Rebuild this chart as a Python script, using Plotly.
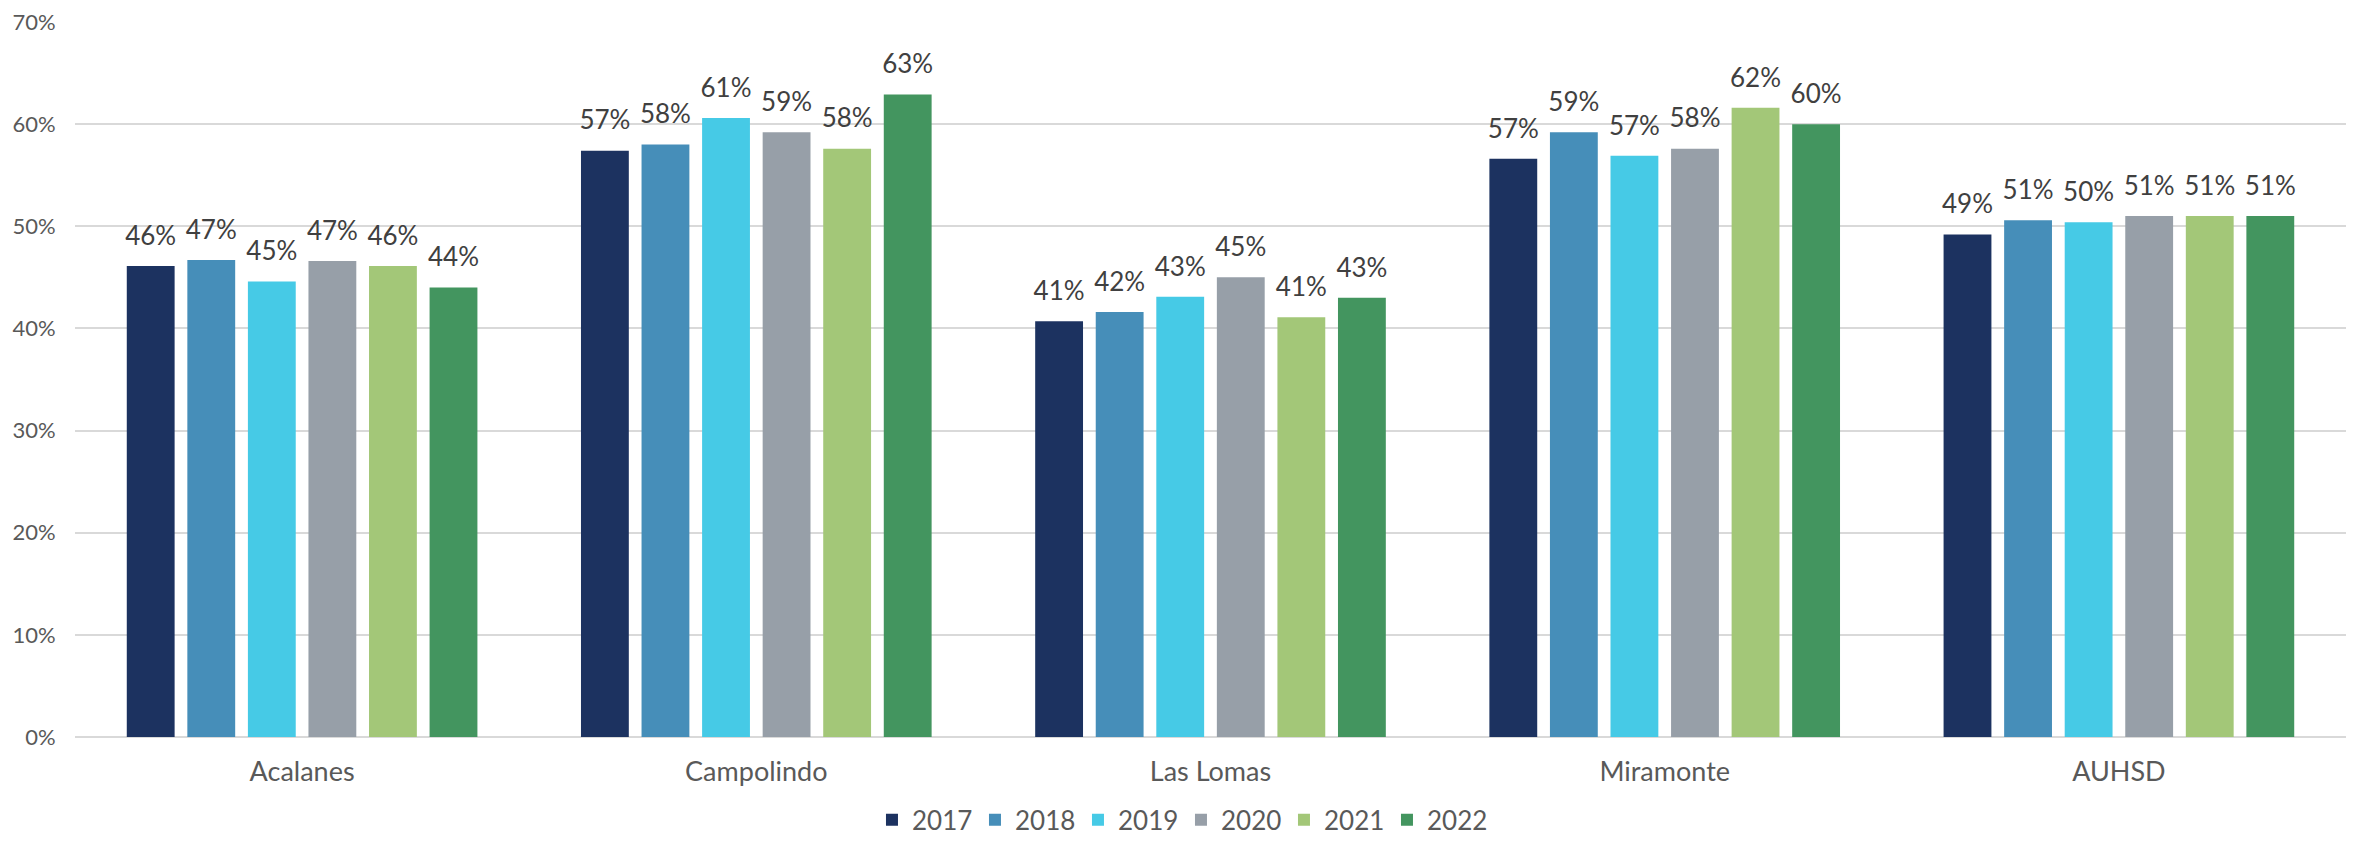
import plotly.graph_objects as go

schools = ["Acalanes", "Campolindo", "Las Lomas", "Miramonte", "AUHSD"]
years = ["2017", "2018", "2019", "2020", "2021", "2022"]

v2017 = [0.461, 0.574, 0.407, 0.566, 0.492]
v2018 = [0.467, 0.580, 0.416, 0.592, 0.506]
v2019 = [0.446, 0.606, 0.431, 0.569, 0.504]
v2020 = [0.466, 0.592, 0.450, 0.576, 0.510]
v2021 = [0.461, 0.576, 0.411, 0.616, 0.510]
v2022 = [0.440, 0.629, 0.430, 0.600, 0.510]
series = [v2017, v2018, v2019, v2020, v2021, v2022]

colors = ["#1C3260", "#468EB9", "#46CAE6", "#979FA8", "#A3C778", "#43955F"]

FONT = "Lato"

fig = go.Figure()
for yr, vals, col in zip(years, series, colors):
    fig.add_trace(go.Bar(
        name=yr, x=schools, y=vals, offsetgroup=yr,
        marker=dict(color=col, line=dict(width=0)),
    ))
for yr, vals in zip(years, series):
    fig.add_trace(go.Scatter(
        x=schools, y=vals, mode="markers+text", orientation="v",
        offsetgroup=yr, showlegend=False, hoverinfo="skip",
        marker=dict(size=22, opacity=0),
        texttemplate="%{y:.0%}", textposition="top center",
        textfont=dict(family=FONT, size=26, color="#404040"),
        cliponaxis=False,
    ))

fig.update_layout(
    width=2343, height=827,
    margin=dict(l=67, r=5, t=14, b=98, autoexpand=False),
    paper_bgcolor="white", plot_bgcolor="white",
    barmode="group", bargap=0.2, bargroupgap=0.21,
    scattermode="group", scattergap=0.2,
    font=dict(family=FONT, color="#595959"),
    showlegend=True,
    legend=dict(orientation="h", xanchor="center", x=0.487,
                yanchor="middle", y=-0.116,
                font=dict(family=FONT, size=26, color="#595959"),
                traceorder="normal", entrywidth=58, itemwidth=30),
    xaxis=dict(showgrid=False, showline=False, zeroline=False,
               automargin=False,
               tickfont=dict(family=FONT, size=27, color="#595959"),
               ticks="outside", ticklen=11, tickcolor="rgba(0,0,0,0)"),
    yaxis=dict(range=[0, 0.7], dtick=0.1, tickformat=".0%",
               automargin=False, ticklabeloverflow="allow",
               showgrid=True, gridcolor="#D9D9D9", gridwidth=2,
               zeroline=True, zerolinecolor="#D9D9D9", zerolinewidth=2,
               showline=False,
               tickfont=dict(family=FONT, size=22, color="#595959"),
               ticks="outside", ticklen=14, tickcolor="rgba(0,0,0,0)"),
)

fig.write_html("out.html")
